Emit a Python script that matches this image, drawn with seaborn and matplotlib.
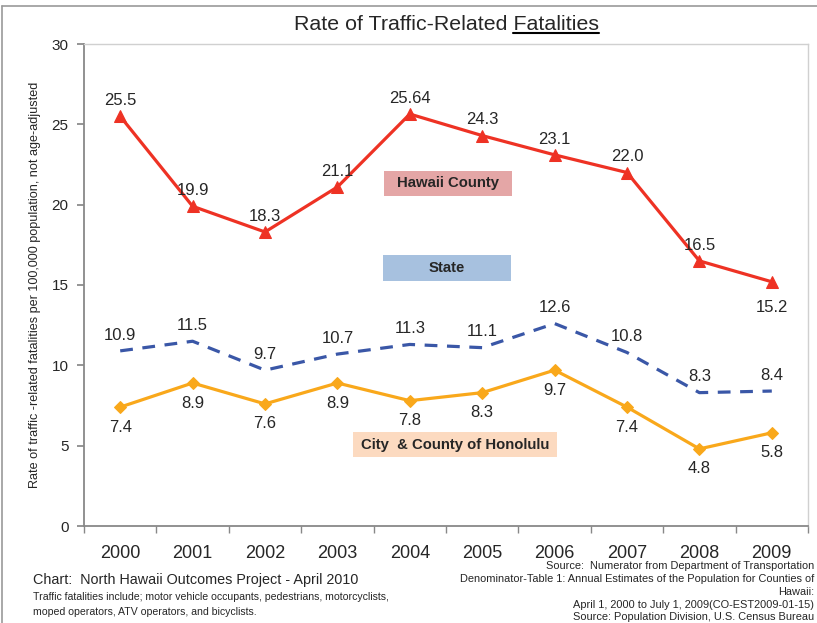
import matplotlib
matplotlib.use("Agg")
import matplotlib.pyplot as plt
import seaborn as sns
import pandas as pd
from matplotlib.patches import Rectangle
from matplotlib.lines import Line2D

years = [2000, 2001, 2002, 2003, 2004, 2005, 2006, 2007, 2008, 2009]
hawaii = [25.5, 19.9, 18.3, 21.1, 25.64, 24.3, 23.1, 22.0, 16.5, 15.2]
state = [10.9, 11.5, 9.7, 10.7, 11.3, 11.1, 12.6, 10.8, 8.3, 8.4]
honolulu = [7.4, 8.9, 7.6, 8.9, 7.8, 8.3, 9.7, 7.4, 4.8, 5.8]
hawaii_labels = ["25.5", "19.9", "18.3", "21.1", "25.64", "24.3", "23.1", "22.0", "16.5", "15.2"]
state_labels = ["10.9", "11.5", "9.7", "10.7", "11.3", "11.1", "12.6", "10.8", "8.3", "8.4"]
honolulu_labels = ["7.4", "8.9", "7.6", "8.9", "7.8", "8.3", "9.7", "7.4", "4.8", "5.8"]
yticks = [0, 5, 10, 15, 20, 25, 30]

sns.set_theme(style="white")
plt.rcParams['font.family'] = ['Liberation Sans', 'DejaVu Sans']

df = pd.DataFrame({"year": years, "Hawaii County": hawaii, "State": state,
                   "City & County of Honolulu": honolulu})

fig = plt.figure(figsize=(8.17, 6.23), dpi=100)
W, H = 817, 623
ax = fig.add_axes([84 / W, 1 - 526 / H, (808 - 84) / W, (526 - 44) / H])

red = "#EE3224"
blue = "#3A57A7"
orange = "#F9A81B"

sns.lineplot(data=df, x="year", y="Hawaii County", ax=ax, color=red, lw=2.3,
             marker="^", markersize=8, markeredgecolor=red)
sns.lineplot(data=df, x="year", y="State", ax=ax, color=blue, lw=2.3)
ax.lines[-1].set_linestyle((0, (4, 3)))
sns.lineplot(data=df, x="year", y="City & County of Honolulu", ax=ax, color=orange, lw=2.3,
             marker="D", markersize=6.5, markeredgecolor=orange)

ax.set_xlim(1999.5, 2009.5)
ax.set_ylim(0, 30)
ax.set_yticks(yticks)
ax.set_yticklabels([str(v) for v in yticks], fontsize=11)
ax.set_xticks(years)
ax.set_xticklabels([str(y) for y in years], fontsize=13)
ax.set_xticks([y + 0.5 for y in [1999] + years], minor=True)
ax.tick_params(axis="x", which="major", length=0, pad=14)
ax.tick_params(axis="x", which="minor", length=5, color="#888888", direction="out", bottom=True)
ax.tick_params(axis="y", length=5, color="#888888", direction="out", left=True, pad=6)
ax.set_xlabel("")
ax.set_ylabel("Rate of traffic -related fatalities per 100,000 population, not age-adjusted",
              fontsize=9.1, labelpad=8)

for s in ["left", "bottom"]:
    ax.spines[s].set_color("#888888")
    ax.spines[s].set_linewidth(1.3)
for s in ["top", "right"]:
    ax.spines[s].set_color("#D0D0D0")
    ax.spines[s].set_linewidth(1.0)

lab_fs = 12
for i, (x, v, t) in enumerate(zip(years, hawaii, hawaii_labels)):
    if i == 9:
        ax.annotate(t, (x, v), xytext=(0, -13), textcoords="offset points", ha="center", va="top", fontsize=lab_fs)
    else:
        ax.annotate(t, (x, v), xytext=(0, 6), textcoords="offset points", ha="center", va="bottom", fontsize=lab_fs)
for x, v, t in zip(years, state, state_labels):
    ax.annotate(t, (x, v), xytext=(0, 6), textcoords="offset points", ha="center", va="bottom", fontsize=lab_fs)
for x, v, t in zip(years, honolulu, honolulu_labels):
    ax.annotate(t, (x, v), xytext=(0, -9), textcoords="offset points", ha="center", va="top", fontsize=lab_fs)

# series name boxes
boxes = [("Hawaii County", 0.414, 0.685, 0.177, 0.052, "#E4A6A6"),
         ("State", 0.413, 0.508, 0.177, 0.054, "#A7C1DF"),
         ("City  & County of Honolulu", 0.3716, 0.143, 0.2814, 0.052, "#FCDAC0")]
for txt, x0, y0, w, h, c in boxes:
    ax.add_patch(Rectangle((x0, y0), w, h, transform=ax.transAxes, facecolor=c, edgecolor="none", zorder=1))
    ax.text(x0 + w / 2, y0 + h / 2, txt, transform=ax.transAxes, ha="center", va="center",
            fontsize=10.7, fontweight="bold", zorder=2)

# title with underline on "Fatalities"
tx = (84 + 808) / 2 / W
ty = 1 - 25 / H
tfs = 15.4
title = fig.text(tx, ty, "Rate of Traffic-Related Fatalities", ha="center", va="center", fontsize=tfs)
fig.canvas.draw()
r = fig.canvas.get_renderer()
bb = title.get_window_extent(r)
tmp = fig.text(0, 0, "Fatalities", fontsize=tfs)
wb = tmp.get_window_extent(r)
tmp.remove()
uy = (bb.y0 + 1.5) / H
fig.add_artist(Line2D([(bb.x1 - wb.width) / W, bb.x1 / W], [uy, uy], color="black", lw=1.5,
                      transform=fig.transFigure))

# figure border lines
fig.add_artist(Line2D([2 / W, 2 / W], [0, 1 - 6 / H], color="#999999", lw=1.2, transform=fig.transFigure))
fig.add_artist(Line2D([2 / W, 1], [1 - 6 / H, 1 - 6 / H], color="#999999", lw=1.2, transform=fig.transFigure))

# footnotes
fig.text(33 / W, 1 - 580 / H, "Chart:  North Hawaii Outcomes Project - April 2010", fontsize=10.4, va="center")
fig.text(33 / W, 1 - 597 / H, "Traffic fatalities include; motor vehicle occupants, pedestrians, motorcyclists,",
         fontsize=7.6, va="center")
fig.text(33 / W, 1 - 612 / H, "moped operators, ATV operators, and bicyclists.", fontsize=7.6, va="center")

src = ["Source:  Numerator from Department of Transportation",
       "Denominator-Table 1: Annual Estimates of the Population for Counties of",
       "Hawaii:",
       "April 1, 2000 to July 1, 2009(CO-EST2009-01-15)",
       "Source: Population Division, U.S. Census Bureau"]
src_y = [566, 579, 592, 605, 617]
for t, yy in zip(src, src_y):
    fig.text(814 / W, 1 - yy / H, t, fontsize=7.9, ha="right", va="center")

fig.savefig("out.png", dpi=100)
